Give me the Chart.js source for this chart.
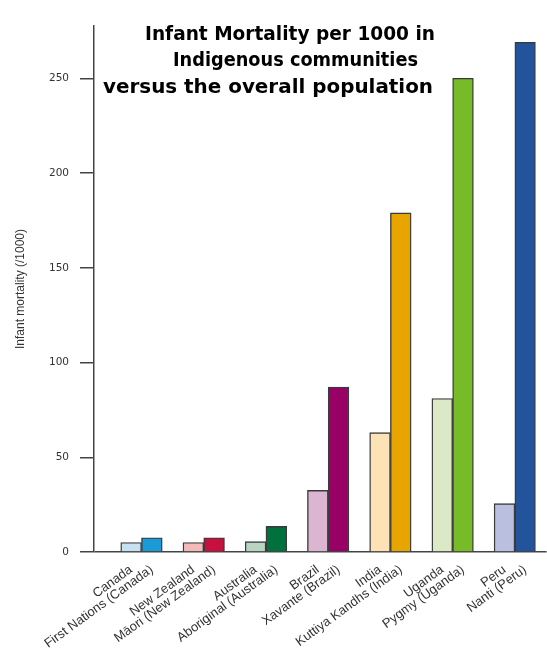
<!DOCTYPE html>
<html><head><meta charset="utf-8">
<script src="https://cdn.jsdelivr.net/npm/chart.js@4.4.0/dist/chart.umd.min.js"></script>
<style>html,body{margin:0;padding:0;background:#fff;}#wrap{width:547px;height:652px;position:relative;}</style>
</head><body><div id="wrap"><canvas id="c"></canvas></div>
<script>
// ---- data ----
const countries = ['Canada', 'New Zealand', 'Australia', 'Brazil', 'India', 'Uganda', 'Peru'];
const indigenousGroups = ['First Nations (Canada)', 'Māori (New Zealand)', 'Aboriginal (Australia)', 'Xavante (Brazil)', 'Kuttiya Kandhs (India)', 'Pygmy (Uganda)', 'Nanti (Peru)'];
const overallMortality = [5, 5, 5.5, 32.5, 63, 81, 25.5];
const indigenousMortality = [7.5, 7.5, 13.5, 87, 179, 250, 269];
const overallColors = ['#c6e1f1', '#f3baba', '#b7d5c2', '#dbb5d2', '#fce2b4', '#dbe9c7', '#babfe0'];
const indigenousColors = ['#1a9ad6', '#c6103f', '#00703d', '#990066', '#e8a500', '#77bb28', '#23539b'];
const yTickValues = [0, 50, 100, 150, 200, 250];
const yMax = 277.6;
const titleLines = ['Infant Mortality per 1000 in', 'Indigenous communities', 'versus the overall population'];
const yTitle = 'Infant mortality (/1000)';

// ---- table for the library: a blank slot before each country pair ----
const slotLabels = [], slotValues = [], slotFill = [];
countries.forEach((c, i) => {
  slotLabels.push('', c, indigenousGroups[i]);
  slotValues.push(null, overallMortality[i], indigenousMortality[i]);
  slotFill.push('rgba(0,0,0,0)', overallColors[i], indigenousColors[i]);
});

const xInset = {
  id: 'xInset',
  afterLayout(chart) {
    const x = chart.scales.x, a = chart.chartArea;
    x.left = a.left + 6;
    x.right = a.right - 11;
    x.width = x.right - x.left;
    x.configure();
  }
};

const titleDraw = {
  id: 'titleDraw',
  afterDraw(chart) {
    const ctx = chart.ctx;
    ctx.save();
    ctx.font = 'bold 20px "DejaVu Sans"';
    ctx.fillStyle = '#000';
    ctx.textAlign = 'center';
    ctx.textBaseline = 'alphabetic';
    const cx = [290, 295.5, 268];
    const base = [39.5, 66, 92.5];
    const maxW = [290, 245, 330];
    titleLines.forEach((t, i) => ctx.fillText(t, cx[i], base[i], maxW[i]));
    ctx.restore();
  }
};

new Chart(document.getElementById('c'), {
  type: 'bar',
  data: {
    labels: slotLabels,
    datasets: [{
      data: slotValues,
      backgroundColor: slotFill,
      borderColor: '#3a3a3a',
      borderWidth: 1.4,
      barPercentage: 1,
      categoryPercentage: 1
    }]
  },
  options: {
    responsive: true,
    maintainAspectRatio: false,
    animation: false,
    layout: { padding: { top: 26, left: 0, right: 0, bottom: 0 } },
    plugins: { legend: { display: false }, tooltip: { enabled: false }, title: { display: false } },
    scales: {
      x: {
        grid: { display: false },
        border: { display: false },
        afterFit(s) { s.height = 100; },
        ticks: {
          autoSkip: false, minRotation: 36, maxRotation: 36, padding: 2,
          color: '#333', font: { family: '"Liberation Sans", Arial, sans-serif', size: 13 }
        }
      },
      y: {
        min: 0, max: yMax,
        afterFit(s) { s.width = 94; },
        afterBuildTicks(s) { s.ticks = yTickValues.map(v => ({ value: v })); },
        border: { display: true, color: '#444', width: 1.5 },
        grid: {
          drawOnChartArea: true,
          color: c => (c.tick && c.tick.value === 0) ? '#444' : 'rgba(0,0,0,0)',
          lineWidth: 1.5,
          tickColor: '#444',
          tickLength: 14
        },
        ticks: {
          padding: 11, color: '#333',
          font: { family: '"DejaVu Sans", Verdana, sans-serif', size: 10.5 }
        },
        title: {
          display: true, text: yTitle, color: '#333',
          font: { family: '"Liberation Sans", Arial, sans-serif', size: 12 },
          padding: { top: 13, bottom: 0 }
        }
      }
    }
  },
  plugins: [xInset, titleDraw]
});
</script>
</body></html>
